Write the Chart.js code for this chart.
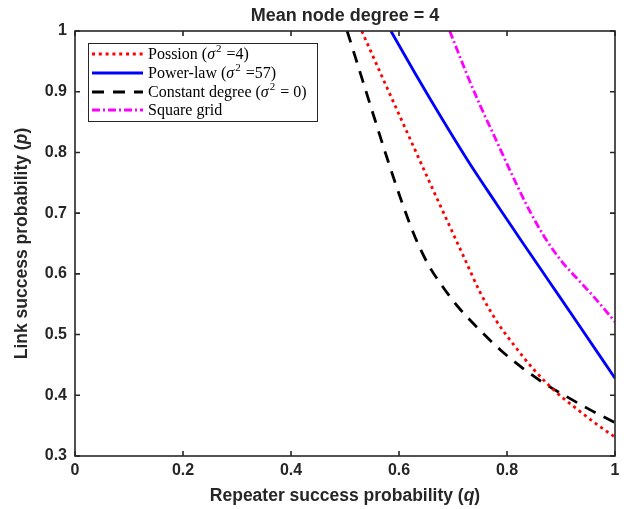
<!DOCTYPE html>
<html>
<head>
<meta charset="utf-8">
<script src="https://cdn.jsdelivr.net/npm/chart.js@4"></script>
<style>
  html, body { margin: 0; padding: 0; background: #fff; }
  #wrap { position: relative; width: 628px; height: 509px; }
</style>
</head>
<body>
<div id="wrap"><canvas id="chart"></canvas></div>
<script>
// values
const poissonQ = [0.531, 0.570, 0.610, 0.650, 0.690, 0.720, 0.750, 0.780, 0.810, 0.850, 0.890, 0.930, 0.965, 1.0];
const poissonP = [1.0, 0.922, 0.843, 0.764, 0.686, 0.628, 0.570, 0.523, 0.486, 0.442, 0.406, 0.377, 0.353, 0.331];

const powerQ = [0.585, 0.630, 0.680, 0.730, 0.780, 0.830, 0.880, 0.930, 1.0];
const powerP = [1.0, 0.930, 0.855, 0.783, 0.716, 0.650, 0.585, 0.520, 0.428];

const constQ = [0.504, 0.530, 0.555, 0.580, 0.605, 0.630, 0.655, 0.680, 0.710, 0.750, 0.790, 0.830, 0.870, 0.910, 0.950, 1.0];
const constP = [1.0, 0.926, 0.855, 0.785, 0.719, 0.660, 0.614, 0.580, 0.545, 0.507, 0.473, 0.444, 0.419, 0.398, 0.378, 0.355];

const gridQ = [0.694, 0.726, 0.750, 0.780, 0.810, 0.840, 0.870, 0.900, 0.930, 0.960, 1.0];
const gridP = [1.0, 0.928, 0.878, 0.820, 0.762, 0.707, 0.660, 0.622, 0.592, 0.563, 0.521];

const xTicks = [0, 0.2, 0.4, 0.6, 0.8, 1];
const yTicks = [0.3, 0.4, 0.5, 0.6, 0.7, 0.8, 0.9, 1];

const axisColor = "#262626";
const sansFont = "'Liberation Sans', Arial, sans-serif";
const serifFont = "'Liberation Serif', 'Times New Roman', serif";

function pts(qs, ps) {
  return qs.map((q, i) => ({ x: q, y: ps[i] }));
}

const series = [
  { label: "Possion", data: pts(poissonQ, poissonP), color: "#ff0000", dash: [3, 3.8] },
  { label: "Power-law", data: pts(powerQ, powerP), color: "#0000ff", dash: [] },
  { label: "Constant degree", data: pts(constQ, constP), color: "#000000", dash: [12, 9] },
  { label: "Square grid", data: pts(gridQ, gridP), color: "#ff00ff", dash: [8, 3, 2, 3] },
];

// legend rows: pieces of text, some italic / superscript
const legendRows = [
  [["Possion (", ""], ["σ", "i"], ["2", "s"], [" =4)", ""]],
  [["Power-law (", ""], ["σ", "i"], ["2", "s"], [" =57)", ""]],
  [["Constant degree (", ""], ["σ", "i"], ["2", "s"], [" = 0)", ""]],
  [["Square grid", ""]],
];

function pieceFont(kind, size, family, bold) {
  const b = bold ? "bold " : "";
  if (kind === "i") return "italic " + b + size + "px " + family;
  if (kind === "s") return b + Math.round(size * 0.7) + "px " + family;
  return b + size + "px " + family;
}

function measurePieces(ctx, pieces, size, family, bold) {
  let w = 0;
  for (const [t, kind] of pieces) {
    ctx.font = pieceFont(kind, size, family, bold);
    w += ctx.measureText(t).width;
    if (kind === "s") w += 2;
  }
  return w;
}

function drawPieces(ctx, pieces, x, y, size, family, bold) {
  let cx = x;
  for (const [t, kind] of pieces) {
    ctx.font = pieceFont(kind, size, family, bold);
    const dy = kind === "s" ? -size * 0.42 : 0;
    if (kind === "s") cx += 1;
    ctx.fillText(t, cx, y + dy);
    cx += ctx.measureText(t).width;
    if (kind === "s") cx += 1;
  }
}

const framePlugin = {
  id: "frame",
  afterDatasetsDraw(chart) {
    const ctx = chart.ctx;
    const a = chart.chartArea;
    const xs = chart.scales.x, ys = chart.scales.y;
    const midX = (a.left + a.right) / 2;
    ctx.save();
    ctx.strokeStyle = axisColor;
    ctx.lineWidth = 1.6;
    ctx.setLineDash([]);
    ctx.strokeRect(a.left, a.top, a.right - a.left, a.bottom - a.top);
    ctx.beginPath();
    const tl = 5;
    for (const v of xTicks) {
      const px = xs.getPixelForValue(v);
      ctx.moveTo(px, a.bottom); ctx.lineTo(px, a.bottom - tl);
      ctx.moveTo(px, a.top); ctx.lineTo(px, a.top + tl);
    }
    for (const v of yTicks) {
      const py = ys.getPixelForValue(v);
      ctx.moveTo(a.left, py); ctx.lineTo(a.left + tl, py);
      ctx.moveTo(a.right, py); ctx.lineTo(a.right - tl, py);
    }
    ctx.stroke();

    // title
    ctx.fillStyle = axisColor;
    ctx.textBaseline = "middle";
    ctx.textAlign = "center";
    ctx.font = "bold 18px " + sansFont;
    ctx.fillText("Mean node degree = 4", midX, 16);
    ctx.textAlign = "left";

    // axis titles
    const xt = [["Repeater success probability (", ""], ["q", "i"], [")", ""]];
    const xw = measurePieces(ctx, xt, 17.5, sansFont, true);
    drawPieces(ctx, xt, midX - xw / 2, 496, 17.5, sansFont, true);

    const yt = [["Link success probability (", ""], ["p", "i"], [")", ""]];
    const yw = measurePieces(ctx, yt, 17.5, sansFont, true);
    ctx.save();
    ctx.translate(22, (a.top + a.bottom) / 2);
    ctx.rotate(-Math.PI / 2);
    drawPieces(ctx, yt, -yw / 2, 0, 17.5, sansFont, true);
    ctx.restore();

    // legend box
    const bx = 88, by = 43, bw = 229, bh = 78;
    ctx.fillStyle = "#fff";
    ctx.fillRect(bx, by, bw, bh);
    ctx.strokeStyle = axisColor;
    ctx.lineWidth = 1;
    ctx.strokeRect(bx + 0.5, by + 0.5, bw, bh);
    const rowY = [54, 73, 92, 110];
    series.forEach((s, i) => {
      ctx.beginPath();
      ctx.strokeStyle = s.color;
      ctx.lineWidth = 2.8;
      ctx.setLineDash(s.dash);
      ctx.moveTo(92, rowY[i]);
      ctx.lineTo(143, rowY[i]);
      ctx.stroke();
      ctx.setLineDash([]);
      ctx.fillStyle = "#000";
      ctx.textBaseline = "alphabetic";
      drawPieces(ctx, legendRows[i], 148, rowY[i] + 5, 16, serifFont, false);
    });
    ctx.restore();
  }
};

const tickFmt = (v) => String(Number(Number(v).toFixed(2)));

new Chart(document.getElementById("chart"), {
  type: "line",
  data: {
    datasets: series.map((s) => ({
      label: s.label,
      data: s.data,
      borderColor: s.color,
      backgroundColor: s.color,
      borderWidth: 2.8,
      borderDash: s.dash,
      borderCapStyle: "butt",
      pointRadius: 0,
      fill: false,
      cubicInterpolationMode: "monotone",
    })),
  },
  options: {
    responsive: true,
    maintainAspectRatio: false,
    animation: false,
    layout: { padding: { top: 31, right: 13 } },
    plugins: {
      legend: { display: false },
      tooltip: { enabled: false },
      title: { display: false },
    },
    scales: {
      x: {
        type: "linear",
        min: 0,
        max: 1,
        grid: { display: false, drawTicks: false },
        border: { display: false },
        afterFit: (s) => { s.height = 53; },
        ticks: {
          stepSize: 0.2,
          padding: 5,
          color: axisColor,
          callback: tickFmt,
          font: { family: sansFont, size: 16, weight: "bold" },
        },
      },
      y: {
        type: "linear",
        min: 0.3,
        max: 1,
        grid: { display: false, drawTicks: false },
        border: { display: false },
        afterFit: (s) => { s.width = 75; },
        ticks: {
          stepSize: 0.1,
          padding: 8,
          color: axisColor,
          callback: tickFmt,
          font: { family: sansFont, size: 16, weight: "bold" },
        },
      },
    },
  },
  plugins: [framePlugin],
});
</script>
</body>
</html>
